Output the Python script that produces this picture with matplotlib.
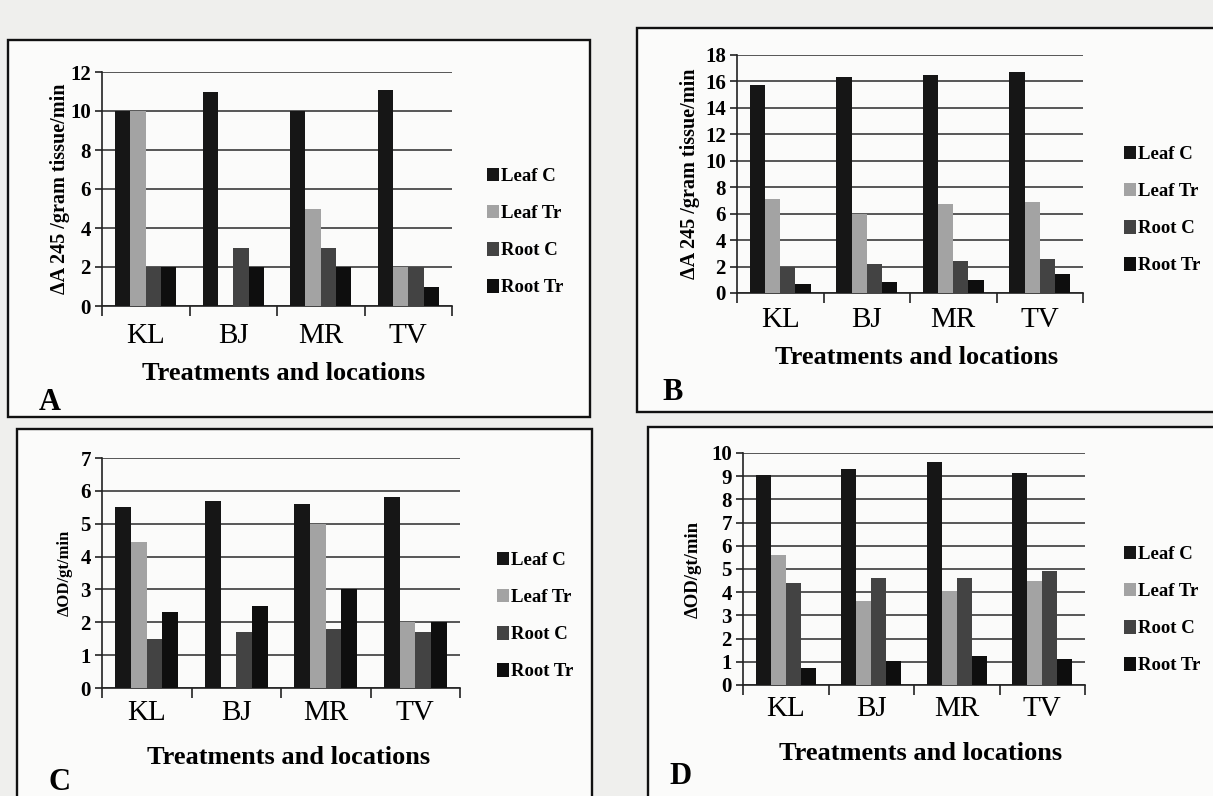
import matplotlib
matplotlib.use("Agg")
import matplotlib.pyplot as plt
from matplotlib.patches import Rectangle, Patch
import numpy as np

W, H = 1213, 796

categories = ["KL", "BJ", "MR", "TV"]
series = ["Leaf C", "Leaf Tr", "Root C", "Root Tr"]
colors = ["#161616", "#a3a3a3", "#434343", "#0e0e0e"]

# Panel A
A_leaf_c = [10.0, 11.0, 10.0, 11.1]
A_leaf_tr = [10.0, 0.0, 5.0, 2.0]
A_root_c = [2.0, 3.0, 3.0, 2.0]
A_root_tr = [2.0, 2.0, 2.0, 1.0]
# Panel B
B_leaf_c = [15.7, 16.3, 16.5, 16.7]
B_leaf_tr = [7.1, 6.0, 6.7, 6.9]
B_root_c = [2.0, 2.2, 2.4, 2.6]
B_root_tr = [0.7, 0.8, 1.0, 1.4]
# Panel C
C_leaf_c = [5.5, 5.7, 5.6, 5.8]
C_leaf_tr = [4.45, 0.0, 5.0, 2.0]
C_root_c = [1.5, 1.7, 1.8, 1.7]
C_root_tr = [2.3, 2.5, 3.0, 2.0]
# Panel D
D_leaf_c = [9.05, 9.3, 9.6, 9.15]
D_leaf_tr = [5.6, 3.6, 4.05, 4.5]
D_root_c = [4.4, 4.6, 4.6, 4.9]
D_root_tr = [0.75, 1.05, 1.25, 1.1]

ylabel_A = "ΔA 245 /gram tissue/min"
ylabel_C = "ΔOD/gt/min"
xlabel = "Treatments and locations"

SERIF = ["Liberation Serif", "DejaVu Serif"]

fig = plt.figure(figsize=(W / 100, H / 100), dpi=100)
fig.patch.set_facecolor("#efefed")

bg = fig.add_axes([0, 0, 1, 1])
bg.set_xlim(0, W)
bg.set_ylim(H, 0)
bg.axis("off")
bg.set_zorder(-10)


def frame(l, t, r, b):
    bg.add_patch(Rectangle((l, t), r - l, b - t, facecolor="#fbfbfa",
                           edgecolor="#111111", linewidth=1.7, zorder=0))


def panel(box, axbox, data, ymax, ystep, ylabel, ylab_size, ylab_x, cat_y, title_y,
          leg_x, leg_y, letter, letter_xy):
    frame(*box)
    l, t, r, b = axbox
    ax = fig.add_axes([l / W, 1 - b / H, (r - l) / W, (b - t) / H])
    ax.set_zorder(5)
    ax.set_facecolor("none")
    x = np.arange(len(categories))
    bw = 0.175
    for i, (vals, c, name) in enumerate(zip(data, colors, series)):
        ax.bar(x + (i - 1.5) * bw, vals, width=bw, color=c, label=name, zorder=3)
    ax.set_xlim(-0.5, len(categories) - 0.5)
    ax.set_ylim(0, ymax)
    ax.set_yticks(np.arange(0, ymax + 0.01, ystep))
    ax.yaxis.grid(True, color="#2a2a2a", linewidth=1.1, zorder=1)
    ax.set_axisbelow(True)
    for s in ["top", "right"]:
        ax.spines[s].set_visible(False)
    ax.spines["left"].set_color("#222222")
    ax.spines["bottom"].set_color("#222222")
    ax.spines["left"].set_linewidth(1.2)
    ax.spines["bottom"].set_linewidth(1.2)
    ax.set_xticks(x)
    ax.set_xticklabels(categories, fontfamily=SERIF, fontsize=21)
    ax.set_xticks(np.arange(-0.5, len(categories)), minor=True)
    ax.tick_params(axis="x", which="major", length=0, pad=(cat_y - b) - 17)
    ax.tick_params(axis="x", which="minor", length=7, width=1.2, color="#222222")
    ax.tick_params(axis="y", which="major", length=5, width=1.2, color="#222222", pad=3)
    for lab in ax.get_yticklabels():
        lab.set_fontfamily(SERIF)
        lab.set_fontweight("bold")
        lab.set_fontsize(15)
    ax.set_ylabel(ylabel, fontfamily=SERIF, fontweight="bold", fontsize=ylab_size)
    ax.yaxis.set_label_coords((ylab_x - l) / (r - l), 0.5)
    ax.yaxis.label.set_va("center")
    ax.set_xlabel(xlabel, fontfamily=SERIF, fontweight="bold", fontsize=19)
    ax.xaxis.set_label_coords(0.52, -(title_y - b) / (b - t))
    ax.xaxis.label.set_va("center")
    handles = [Patch(facecolor=c, edgecolor="none") for c in colors]
    ax.legend(handles, series, loc="center left",
              bbox_to_anchor=((leg_x - l) / (r - l), (b - leg_y) / (b - t)),
              frameon=False, handlelength=0.65, handleheight=0.75, handletextpad=0.1,
              labelspacing=1.05, borderaxespad=0, borderpad=0,
              prop={"family": SERIF, "weight": "bold", "size": 13.5})
    bg.text(letter_xy[0], letter_xy[1], letter, fontfamily=SERIF,
            fontweight="bold", fontsize=22, ha="center", va="center")
    return ax


panel((8, 40, 590, 417), (102, 72, 452, 306),
      [A_leaf_c, A_leaf_tr, A_root_c, A_root_tr], 12, 2, ylabel_A, 14.5, 60,
      335, 373, 487, 232, "A", (50, 402))
panel((637, 28, 1240, 412), (737, 55, 1083, 293),
      [B_leaf_c, B_leaf_tr, B_root_c, B_root_tr], 18, 2, ylabel_A, 14.5, 690,
      320, 358, 1124, 210, "B", (673, 392))
panel((17, 429, 592, 820), (102, 458, 460, 688),
      [C_leaf_c, C_leaf_tr, C_root_c, C_root_tr], 7, 1, ylabel_C, 12, 65,
      714, 757, 497, 616, "C", (60, 783))
panel((648, 427, 1240, 820), (743, 453, 1085, 685),
      [D_leaf_c, D_leaf_tr, D_root_c, D_root_tr], 10, 1, ylabel_C, 13.5, 693,
      710, 753, 1124, 610, "D", (681, 777))

fig.savefig("out.png", dpi=100, facecolor=fig.get_facecolor())
